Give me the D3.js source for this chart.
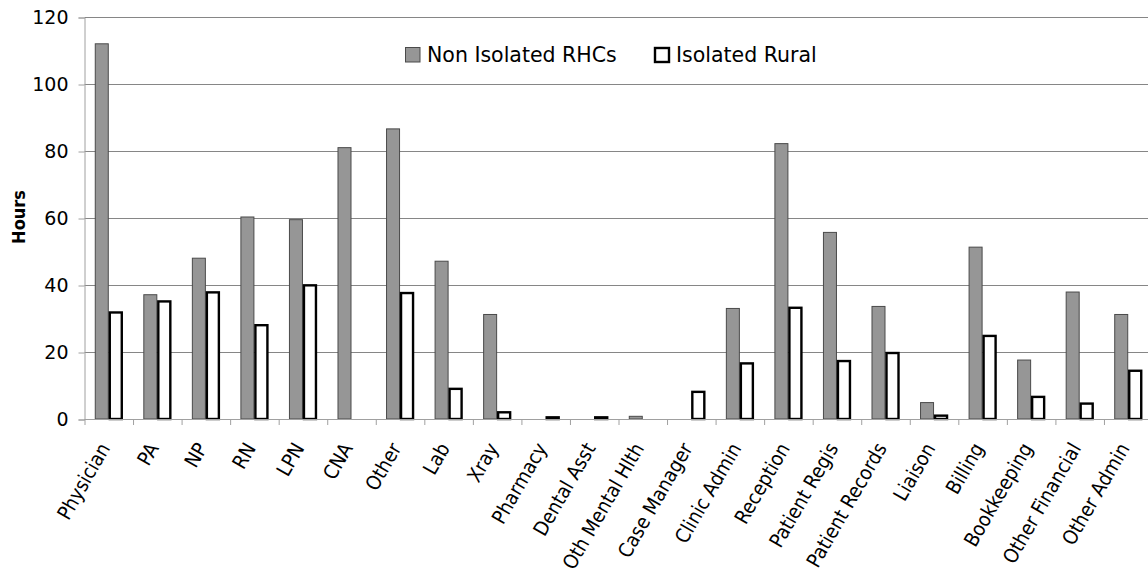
<!DOCTYPE html>
<html>
<head>
<meta charset="utf-8">
<script src="https://cdn.jsdelivr.net/npm/d3@7"></script>
<style>
  html, body { margin: 0; padding: 0; background: #fff; }
  svg { display: block; }
  text { font-family: "DejaVu Sans", Verdana, sans-serif; fill: #000; }
</style>
</head>
<body>
<svg id="chart" width="1148" height="575"></svg>
<script>
const categories = ["Physician", "PA", "NP", "RN", "LPN", "CNA", "Other", "Lab", "Xray", "Pharmacy",
  "Dental Asst", "Oth Mental Hlth", "Case Manager", "Clinic Admin", "Reception", "Patient Regis",
  "Patient Records", "Liaison", "Billing", "Bookkeeping", "Other Financial", "Other Admin"];
const nonIsolatedRHCs = [112, 37.1, 48.0, 60.3, 59.5, 81.0, 86.6, 47.1, 31.2, 0, 0, 0.8, 0, 33.0,
  82.2, 55.7, 33.6, 4.9, 51.3, 17.6, 37.9, 31.2];
const isolatedRural = [31.8, 35.1, 37.8, 28.0, 39.9, 0, 37.6, 9.0, 2.0, 0.5, 0.5, 0, 8.1, 16.6,
  33.2, 17.3, 19.7, 1.0, 24.8, 6.6, 4.6, 14.4];
const seriesNames = ["Non Isolated RHCs", "Isolated Rural"];
const yTicks = [0, 20, 40, 60, 80, 100, 120];
const yLabel = "Hours";

const svg = d3.select("#chart");
const mLeft = 84.5, mRight = 1152.5, mTop = 17, mBottom = 419;

const x = d3.scaleBand().domain(categories).range([mLeft, mRight])
  .paddingInner(0.423).paddingOuter(0.2115);
const xs = d3.scaleBand().domain(seriesNames).range([0, x.bandwidth()]);
const y = d3.scaleLinear().domain([0, 120]).range([mBottom, mTop]);

// gridlines
svg.append("g").selectAll("line").data(yTicks.filter(d => d > 0)).join("line")
  .attr("x1", mLeft).attr("x2", mRight)
  .attr("y1", d => y(d) + 0.5).attr("y2", d => y(d) + 0.5)
  .attr("stroke", "#868686").attr("stroke-width", 1);

// y axis
const yAxis = d3.axisLeft(y).tickValues(yTicks).tickSize(6).tickPadding(10);
const gy = svg.append("g").attr("transform", `translate(${mLeft},0.5)`).call(yAxis);
gy.select(".domain").attr("stroke", "#a0a0a0");
gy.selectAll(".tick line").attr("stroke", "#a0a0a0");
gy.selectAll(".tick text").attr("font-size", 19).attr("font-family", "DejaVu Sans").attr("fill", "#000");

// bars
const data = categories.map((c, i) => ({ c, v: [nonIsolatedRHCs[i], isolatedRural[i]] }));
const groups = svg.append("g").selectAll("g").data(data).join("g")
  .attr("transform", d => `translate(${x(d.c)},0)`);
groups.selectAll("rect").data(d => d.v.map((v, j) => ({ v, s: seriesNames[j], j })).filter(e => e.v > 0))
  .join("rect")
  .attr("x", e => xs(e.s) + (e.j === 0 ? 0.5 : 1))
  .attr("width", e => xs.bandwidth() - (e.j === 0 ? 1 : 2))
  .attr("y", e => y(e.v))
  .attr("height", e => y(0) - y(e.v))
  .attr("fill", e => e.j === 0 ? "#969696" : "#ffffff")
  .attr("stroke", e => e.j === 0 ? "#4a4a4a" : "#000")
  .attr("stroke-width", e => e.j === 0 ? 1 : 2.4);

// x axis
const xAxis = d3.axisBottom(x).tickSize(0).tickFormat("");
const gx = svg.append("g").attr("transform", `translate(0,${mBottom + 0.5})`).call(xAxis);
gx.select(".domain").attr("stroke", "#a0a0a0").attr("d", `M${mLeft},0H${mRight}`);
const step = x.step();
svg.append("g").selectAll("line").data(d3.range(categories.length + 1)).join("line")
  .attr("x1", i => mLeft + i * step + 0.5).attr("x2", i => mLeft + i * step + 0.5)
  .attr("y1", mBottom).attr("y2", mBottom + 6)
  .attr("stroke", "#a0a0a0");

svg.append("g").selectAll("text").data(categories).join("text")
  .attr("transform", d => `translate(${x(d) + x.bandwidth() / 2 + 2},${mBottom + 29}) rotate(-60)`)
  .attr("text-anchor", "end")
  .attr("font-family", "'DejaVu Sans Condensed', 'DejaVu Sans', sans-serif")
  .attr("font-stretch", "condensed")
  .attr("font-size", 20)
  .text(d => d);

// y label
svg.append("text")
  .attr("transform", `translate(25,217) rotate(-90)`)
  .attr("text-anchor", "middle")
  .attr("font-family", "'DejaVu Sans Condensed', 'DejaVu Sans', sans-serif")
  .attr("font-stretch", "condensed")
  .attr("font-size", 18).attr("font-weight", "bold")
  .text(yLabel);

// legend
const leg = svg.append("g");
leg.append("rect").attr("x", 405.5).attr("y", 47.5).attr("width", 14.5).attr("height", 14.5)
  .attr("fill", "#969696").attr("stroke", "#4a4a4a").attr("stroke-width", 1);
leg.append("text").attr("x", 427).attr("y", 62).attr("font-size", 20.5).text(seriesNames[0]);
leg.append("rect").attr("x", 655).attr("y", 48).attr("width", 14).attr("height", 14)
  .attr("fill", "#fff").attr("stroke", "#000").attr("stroke-width", 2.4);
leg.append("text").attr("x", 676).attr("y", 62).attr("font-size", 20.5).text(seriesNames[1]);
</script>
</body>
</html>
